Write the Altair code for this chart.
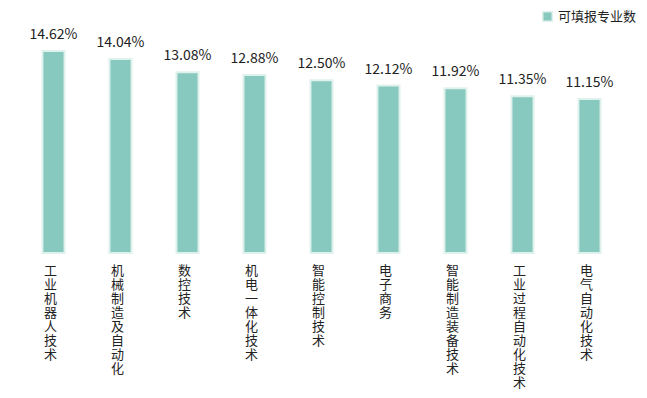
import altair as alt
import pandas as pd

categories = ["工业机器人技术", "机械制造及自动化", "数控技术", "机电一体化技术", "智能控制技术",
              "电子商务", "智能制造装备技术", "工业过程自动化技术", "电气自动化技术"]
values = [14.62, 14.04, 13.08, 12.88, 12.50, 12.12, 11.92, 11.35, 11.15]
series_name = "可填报专业数"

df = pd.DataFrame({
    "cat": categories,
    "value": values,
    "vlabel": [f"{v:.2f}%" for v in values],
    "vert": ["\n".join(list(c)) for c in categories],
    "series": [series_name] * len(categories),
})

FONT = "Noto Sans CJK SC"
COLOR = "#88c9bf"

x = alt.X("cat:N", sort=categories,
          scale=alt.Scale(paddingInner=0.67, paddingOuter=0.335), axis=None)
y = alt.Y("value:Q", scale=alt.Scale(domain=[0, 16]), axis=None)

bars = alt.Chart(df).mark_bar(stroke="#dff1ec", strokeWidth=2).encode(
    x=x,
    y=y,
    color=alt.Color("series:N", scale=alt.Scale(range=[COLOR]),
                    legend=alt.Legend(title=None, orient="none", legendX=521, legendY=-22,
                                      symbolType="square", symbolSize=90,
                                      labelFont=FONT, labelFontSize=13, labelColor="#222")),
)

vlabels = alt.Chart(df).mark_text(baseline="alphabetic", dy=-12, fontSize=14, font=FONT,
                                  color="#222").encode(
    x=x,
    y=y,
    text="vlabel:N",
)

clabels = alt.Chart(df).mark_text(baseline="top", align="center", dx=-3, fontSize=13,
                                  lineHeight=14, lineBreak="\n", font=FONT,
                                  color="#222").encode(
    x=x,
    y=alt.value(233),
    text="vert:N",
)

chart = alt.layer(bars, vlabels, clabels).properties(
    width=603, height=221,
    padding={"left": 12, "top": 24, "right": 16, "bottom": 145},
    autosize=alt.AutoSizeParams(type="none"),
).configure(background="white").configure_view(stroke=None)

chart.save("out.html", embed_options={"renderer": "svg", "actions": False})
